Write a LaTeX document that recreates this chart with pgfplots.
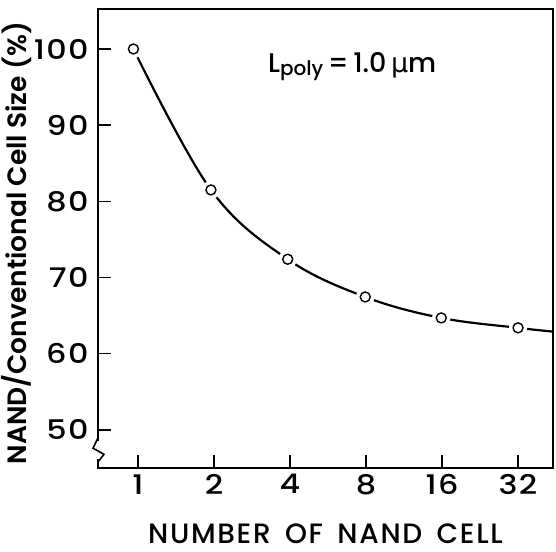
\documentclass[border=0pt]{standalone}
\usepackage{fontspec}
\setmainfont{Poppins}[UprightFont=* Medium]
\newfontfamily\xlabfont{Poppins}[UprightFont=* Medium, LetterSpace=6, WordSpace=1.6]
\newfontfamily\ylabfont{Poppins}[UprightFont=* SemiBold]
\newfontfamily\tickfam{Poppins}[UprightFont=* Medium, FakeStretch=1.18, LetterSpace=5]
\newfontfamily\dejavu{DejaVu Sans}
\newcommand\tickfont{\tickfam\fontsize{27}{30}\selectfont}
\usepackage{pgfplots}
\pgfplotsset{compat=1.18}

\begin{document}
\begin{tikzpicture}
\begin{axis}[
    scale only axis,
    width=455pt, height=459pt,
    xmin=-0.526, xmax=5.46,
    ymin=45, ymax=105.25,
    axis line style={line width=2pt},
    tick pos=left,
    tick align=inside,
    major tick length=13pt,
    every tick/.style={black, line width=1.5pt},
    xtick={0,1,2,3,4,5},
    xticklabels={{\tickfont 1},{\tickfont 2},{\tickfont 4},{\tickfont 8},{\tickfont 16},{\tickfont 32}},
    ytick={50,60,70,80,90,100},
    yticklabels={{\tickfont 50},{\tickfont 60},{\tickfont 70},{\tickfont 80},{\tickfont 90},{\tickfont 100}},
    tick label style={font=\tickfont},
    xticklabel style={yshift=-3pt},
    yticklabel style={xshift=-6pt},
    xlabel={NUMBER OF NAND CELL},
    ylabel={NAND/Conventional Cell Size (\%)},
    xlabel style={font=\xlabfont\fontsize{28}{30}\selectfont,
        at={(axis description cs:0.5,-0.144)}, anchor=center},
    ylabel style={font=\ylabfont\fontsize{26.5}{30}\selectfont,
        at={(axis description cs:-0.178,0.490)}, anchor=center},
    clip=false,
]
% fitted curve through the measured points
\addplot[black, line width=2.2pt, smooth, tension=0.6] coordinates {
    (-0.06,100.0) (0.96,81.5) (1.97,72.4) (2.99,67.45) (3.99,64.7) (5.0,63.4) (5.46,62.9)
};
% white halo round the markers, then the markers
\addplot[only marks, mark=*, mark size=9pt, white] coordinates {
    (-0.06,100.0) (0.96,81.5) (1.97,72.4) (2.99,67.45) (3.99,64.7) (5.0,63.4)
};
\addplot[only marks, mark=o, mark size=5pt, black, line width=1.4pt] coordinates {
    (-0.06,100.0) (0.96,81.5) (1.97,72.4) (2.99,67.45) (3.99,64.7) (5.0,63.4)
};
% axis break
\fill[white] (axis cs:-0.6,46.2) rectangle (axis cs:-0.46,48.6);
\draw[line width=1.6pt] (axis cs:-0.526,48.95) -- (axis cs:-0.592,47.6)
    -- (axis cs:-0.447,46.8) -- (axis cs:-0.526,45.8) -- (axis cs:-0.526,45);
\node[anchor=base west, inner sep=0pt] at (axis cs:1.71,96.9)
    {\fontsize{27}{30}\selectfont L\raisebox{-3pt}{\fontsize{20}{22}\selectfont poly}\,=\,1.0\,{\dejavu µ}m};
\end{axis}
\pgfresetboundingbox
\path ([shift={(-98pt,-83pt)}]current axis.south west) rectangle ++(556pt,551pt);
\end{tikzpicture}
\end{document}
